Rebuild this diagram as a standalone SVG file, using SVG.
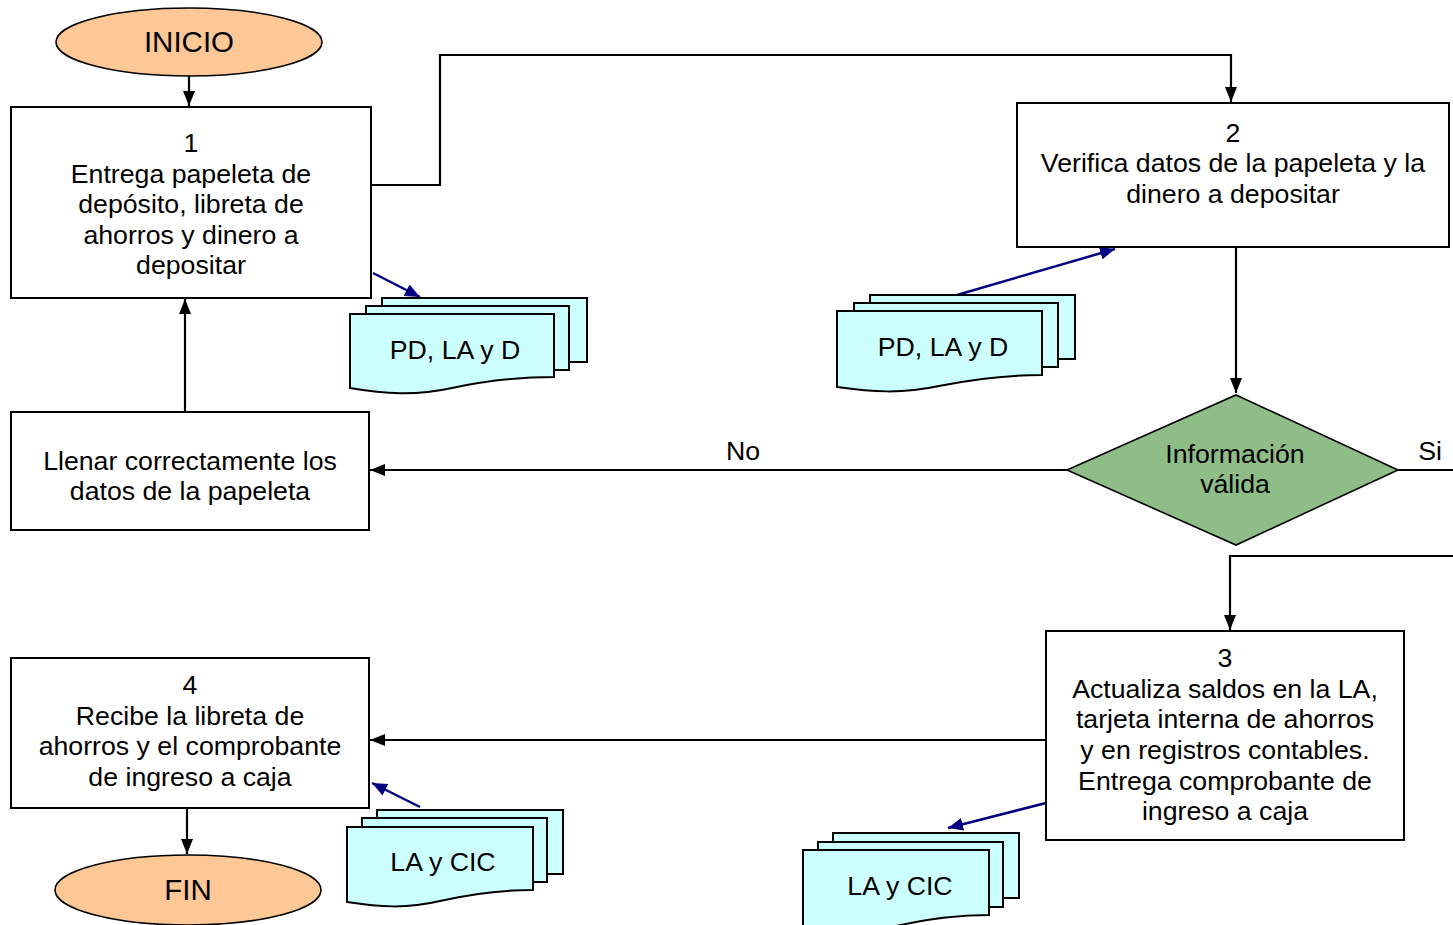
<svg xmlns="http://www.w3.org/2000/svg" width="1453" height="925" viewBox="0 0 1453 925">
  <style>
    .box { fill: #ffffff; stroke: #000000; stroke-width: 2; }
    .term { fill: #fdc896; stroke: #000000; stroke-width: 1.6; }
    .dec { fill: #8fbd87; stroke: #000000; stroke-width: 1.6; }
    .doc { fill: #ccffff; stroke: #000000; stroke-width: 2; }
    .t { font-family: "Liberation Sans", Arial, sans-serif; font-size: 26.7px; fill: #000000; text-anchor: middle; }
    .tt { font-family: "Liberation Sans", Arial, sans-serif; font-size: 29.5px; fill: #000000; text-anchor: middle; }
    .flow { fill: none; stroke: #000000; stroke-width: 2.2; }
    .ref { fill: none; stroke: #000080; stroke-width: 2.5; }
  </style>
  <defs>
    <marker id="arr" viewBox="0 0 15 12" refX="15" refY="6" markerWidth="15" markerHeight="12" markerUnits="userSpaceOnUse" orient="auto">
      <path d="M0,0 L15,6 L0,12 Z" fill="#000000"/>
    </marker>
    <marker id="arrBlue" viewBox="0 0 14 12" refX="14" refY="6" markerWidth="15" markerHeight="13" markerUnits="userSpaceOnUse" orient="auto">
      <path d="M0,0 L14,6 L0,12 Z" fill="#000080"/>
    </marker>
  </defs>

  <!-- connectors -->
  <g id="connectors">
    <path class="flow" d="M189,76 V106" marker-end="url(#arr)"/>
    <path class="flow" d="M371,185 H440 V55 H1231 V102" marker-end="url(#arr)"/>
    <path class="flow" d="M1236,248 V393" marker-end="url(#arr)"/>
    <path class="flow" d="M1067,470 H370" marker-end="url(#arr)"/>
    <path class="flow" d="M185,412 V299" marker-end="url(#arr)"/>
    <path class="flow" d="M1398,470 H1453"/>
    <path class="flow" d="M1453,556 H1230 V630" marker-end="url(#arr)"/>
    <path class="flow" d="M1046,740 H370" marker-end="url(#arr)"/>
    <path class="flow" d="M187,808 V854" marker-end="url(#arr)"/>
    <path class="ref" d="M373,273 L420,297" marker-end="url(#arrBlue)"/>
    <path class="ref" d="M957,295 L1115,249" marker-end="url(#arrBlue)"/>
    <path class="ref" d="M420,807 L372,783" marker-end="url(#arrBlue)"/>
    <path class="ref" d="M1046,803 L948,828" marker-end="url(#arrBlue)"/>
    <text class="t" x="743" y="460">No</text>
    <text class="t" x="1430" y="460">Si</text>
  </g>

  <!-- start -->
  <g id="inicio">
    <ellipse class="term" cx="189" cy="42" rx="133" ry="34"/>
    <text class="tt" x="189" y="52">INICIO</text>
  </g>

  <!-- step 1 -->
  <g id="paso1">
    <rect class="box" x="11" y="107" width="360" height="191"/>
    <text class="t" x="191" y="152">1</text>
    <text class="t" x="191" y="183">Entrega papeleta de</text>
    <text class="t" x="191" y="213">depósito, libreta de</text>
    <text class="t" x="191" y="244">ahorros y dinero a</text>
    <text class="t" x="191" y="274">depositar</text>
  </g>

  <!-- documents for step 1 -->
  <g id="doc1">
    <rect class="doc" x="382" y="298" width="205" height="64"/>
    <rect class="doc" x="366" y="306" width="203" height="64"/>
    <path class="doc" d="M350,314 H554 V377 C520,377 490,380 452,388 C415,396 385,394 350,388 Z"/>
    <text class="t" x="455" y="359">PD, LA y D</text>
  </g>

  <!-- step 2 -->
  <g id="paso2">
    <rect class="box" x="1017" y="103" width="432" height="144"/>
    <text class="t" x="1233" y="142">2</text>
    <text class="t" x="1233" y="172">Verifica datos de la papeleta y la</text>
    <text class="t" x="1233" y="203">dinero a depositar</text>
  </g>

  <!-- documents for step 2 -->
  <g id="doc2">
    <rect class="doc" x="870" y="295" width="205" height="64"/>
    <rect class="doc" x="854" y="303" width="204" height="64"/>
    <path class="doc" d="M837,311 H1042 V375 C1008,375 978,378 939,386 C902,394 872,392 837,387 Z"/>
    <text class="t" x="943" y="356">PD, LA y D</text>
  </g>

  <!-- decision -->
  <g id="decision">
    <polygon class="dec" points="1236,395 1398,470 1236,545 1067,470"/>
    <text class="t" x="1235" y="463">Información</text>
    <text class="t" x="1235" y="493">válida</text>
  </g>

  <!-- correction -->
  <g id="llenar">
    <rect class="box" x="11" y="412" width="358" height="118"/>
    <text class="t" x="190" y="470">Llenar correctamente los</text>
    <text class="t" x="190" y="500">datos de la papeleta</text>
  </g>

  <!-- step 3 -->
  <g id="paso3">
    <rect class="box" x="1046" y="631" width="358" height="209"/>
    <text class="t" x="1225" y="667">3</text>
    <text class="t" x="1225" y="698">Actualiza saldos en la LA,</text>
    <text class="t" x="1225" y="728">tarjeta interna de ahorros</text>
    <text class="t" x="1225" y="759">y en registros contables.</text>
    <text class="t" x="1225" y="790">Entrega comprobante de</text>
    <text class="t" x="1225" y="820">ingreso a caja</text>
  </g>

  <!-- documents for step 3 -->
  <g id="doc4">
    <rect class="doc" x="833" y="833" width="186" height="65"/>
    <rect class="doc" x="818" y="842" width="185" height="65"/>
    <path class="doc" d="M803,850 H989 V915 C958,915 931,918 896,926 C862,934 835,932 803,927 Z"/>
    <text class="t" x="900" y="895">LA y CIC</text>
  </g>

  <!-- step 4 -->
  <g id="paso4">
    <rect class="box" x="11" y="658" width="358" height="150"/>
    <text class="t" x="190" y="694">4</text>
    <text class="t" x="190" y="725">Recibe la libreta de</text>
    <text class="t" x="190" y="755">ahorros y el comprobante</text>
    <text class="t" x="190" y="786">de ingreso a caja</text>
  </g>

  <!-- documents for step 4 -->
  <g id="doc3">
    <rect class="doc" x="377" y="810" width="186" height="64"/>
    <rect class="doc" x="362" y="818" width="185" height="64"/>
    <path class="doc" d="M347,827 H533 V890 C502,890 475,893 440,901 C406,909 379,907 347,902 Z"/>
    <text class="t" x="443" y="871">LA y CIC</text>
  </g>

  <!-- end -->
  <g id="fin">
    <ellipse class="term" cx="188" cy="890" rx="133" ry="35"/>
    <text class="tt" x="188" y="900">FIN</text>
  </g>
</svg>
